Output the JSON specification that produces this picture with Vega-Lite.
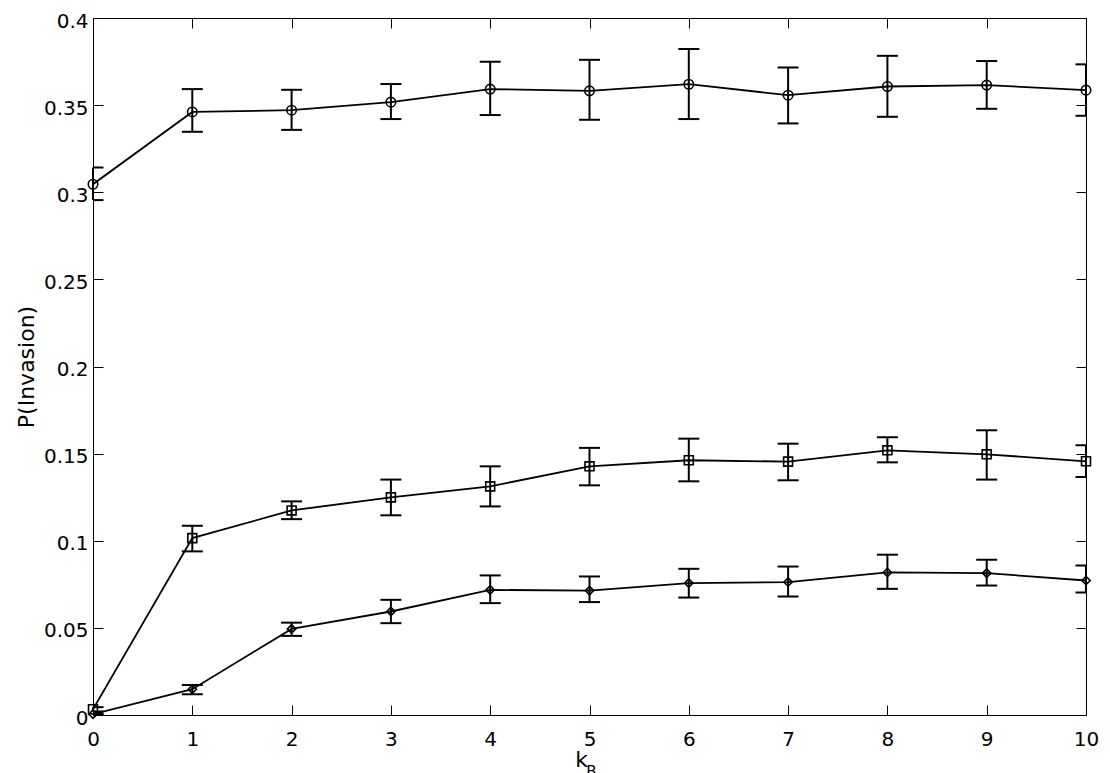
{
  "$schema": "https://vega.github.io/schema/vega-lite/v6.json",
  "width": 993,
  "height": 697,
  "autosize": "none",
  "padding": {"left": 93, "top": 18, "right": 24, "bottom": 58},
  "background": "white",
  "config": {
    "view": {"stroke": "black", "strokeWidth": 1},
    "font": "DejaVu Sans",
    "axis": {"grid": false, "domain": false, "labelFont": "DejaVu Sans", "titleFont": "DejaVu Sans", "labelFontSize": 20, "titleFontSize": 22, "labelColor": "black", "titleColor": "black", "titleFontWeight": "normal", "tickColor": "black", "tickWidth": 1}
  },
  "data": {
    "values": [
      {"series": "A", "x": 0, "y": 0.3046, "lo": 0.2955, "hi": 0.3142},
      {"series": "A", "x": 1, "y": 0.3461, "lo": 0.3347, "hi": 0.3592},
      {"series": "A", "x": 2, "y": 0.3471, "lo": 0.3358, "hi": 0.3588},
      {"series": "A", "x": 3, "y": 0.3517, "lo": 0.342, "hi": 0.3621},
      {"series": "A", "x": 4, "y": 0.3592, "lo": 0.3443, "hi": 0.3749},
      {"series": "A", "x": 5, "y": 0.3582, "lo": 0.3416, "hi": 0.376},
      {"series": "A", "x": 6, "y": 0.362, "lo": 0.342, "hi": 0.3822},
      {"series": "A", "x": 7, "y": 0.3557, "lo": 0.3395, "hi": 0.3716},
      {"series": "A", "x": 8, "y": 0.3607, "lo": 0.3433, "hi": 0.3783},
      {"series": "A", "x": 9, "y": 0.3615, "lo": 0.3479, "hi": 0.3753},
      {"series": "A", "x": 10, "y": 0.3586, "lo": 0.3439, "hi": 0.3734},
      {"series": "B", "x": 0, "y": 0.0033, "lo": 0.002, "hi": 0.0045},
      {"series": "B", "x": 1, "y": 0.1015, "lo": 0.0939, "hi": 0.1086},
      {"series": "B", "x": 2, "y": 0.1174, "lo": 0.1124, "hi": 0.1226},
      {"series": "B", "x": 3, "y": 0.1249, "lo": 0.1146, "hi": 0.1351},
      {"series": "B", "x": 4, "y": 0.1312, "lo": 0.1197, "hi": 0.1427},
      {"series": "B", "x": 5, "y": 0.1427, "lo": 0.1318, "hi": 0.1533},
      {"series": "B", "x": 6, "y": 0.1462, "lo": 0.1341, "hi": 0.1586},
      {"series": "B", "x": 7, "y": 0.1454, "lo": 0.1347, "hi": 0.1557},
      {"series": "B", "x": 8, "y": 0.1519, "lo": 0.145, "hi": 0.1594},
      {"series": "B", "x": 9, "y": 0.1496, "lo": 0.1351, "hi": 0.1634},
      {"series": "B", "x": 10, "y": 0.1456, "lo": 0.1366, "hi": 0.1548},
      {"series": "C", "x": 0, "y": 0.0005, "lo": 0.0002, "hi": 0.0008},
      {"series": "C", "x": 1, "y": 0.0148, "lo": 0.0119, "hi": 0.0172},
      {"series": "C", "x": 2, "y": 0.0494, "lo": 0.0454, "hi": 0.053},
      {"series": "C", "x": 3, "y": 0.0594, "lo": 0.0527, "hi": 0.0661},
      {"series": "C", "x": 4, "y": 0.0718, "lo": 0.0642, "hi": 0.0801},
      {"series": "C", "x": 5, "y": 0.0714, "lo": 0.0648, "hi": 0.0795},
      {"series": "C", "x": 6, "y": 0.0757, "lo": 0.0674, "hi": 0.0839},
      {"series": "C", "x": 7, "y": 0.0763, "lo": 0.068, "hi": 0.0852},
      {"series": "C", "x": 8, "y": 0.0818, "lo": 0.0724, "hi": 0.092},
      {"series": "C", "x": 9, "y": 0.0814, "lo": 0.0743, "hi": 0.0891},
      {"series": "C", "x": 10, "y": 0.0772, "lo": 0.0703, "hi": 0.0858}
    ]
  },
  "layer": [
    {
      "mark": {"type": "line", "color": "black", "strokeWidth": 1.8, "clip": true},
      "encoding": {
        "x": {"field": "x", "type": "quantitative", "scale": {"domain": [0, 10], "nice": false, "zero": false},
          "axis": {"orient": "bottom", "title": "k", "values": [0,1,2,3,4,5,6,7,8,9,10], "tickSize": -10, "labelPadding": 24, "titlePadding": 0, "titleX": 488, "titleAlign": "center", "labelFlush": false, "labelOverlap": false}},
        "y": {"field": "y", "type": "quantitative", "scale": {"domain": [0, 0.4], "nice": false},
          "axis": {"orient": "left", "title": "P(Invasion)", "values": [0,0.05,0.1,0.15,0.2,0.25,0.3,0.35,0.4], "format": "~g", "tickSize": -10, "labelPadding": 15, "titlePadding": 5, "labelOffset": 3, "labelFlush": false, "labelOverlap": false}},
        "detail": {"field": "series"}
      }
    },
    {
      "mark": {"type": "rule", "color": "black", "strokeWidth": 2},
      "encoding": {
        "x": {"field": "x", "type": "quantitative", "axis": null},
        "y": {"field": "lo", "type": "quantitative", "axis": null},
        "y2": {"field": "hi"}
      }
    },
    {
      "mark": {"type": "tick", "orient": "horizontal", "color": "black", "size": 21, "thickness": 2, "opacity": 1, "clip": true},
      "encoding": {
        "x": {"field": "x", "type": "quantitative", "axis": null},
        "y": {"field": "lo", "type": "quantitative", "axis": null}
      }
    },
    {
      "mark": {"type": "tick", "orient": "horizontal", "color": "black", "size": 21, "thickness": 2, "opacity": 1, "clip": true},
      "encoding": {
        "x": {"field": "x", "type": "quantitative", "axis": null},
        "y": {"field": "hi", "type": "quantitative", "axis": null}
      }
    },
    {
      "mark": {"type": "point", "filled": false, "color": "black", "strokeWidth": 1.6, "opacity": 1},
      "encoding": {
        "x": {"field": "x", "type": "quantitative",
          "axis": {"orient": "top", "title": null, "labels": false, "values": [0,1,2,3,4,5,6,7,8,9,10], "tickSize": -10}},
        "y": {"field": "y", "type": "quantitative",
          "axis": {"orient": "right", "title": null, "labels": false, "values": [0,0.05,0.1,0.15,0.2,0.25,0.3,0.35,0.4], "tickSize": -10}},
        "shape": {"field": "series", "type": "nominal", "scale": {"domain": ["A", "B", "C"], "range": ["circle", "square", "diamond"]}, "legend": null},
        "size": {"field": "series", "type": "nominal", "scale": {"domain": ["A", "B", "C"], "range": [90, 70, 80]}, "legend": null}
      }
    },
    {
      "data": {"values": [{"x": 5, "y": 0, "t": "B"}]},
      "mark": {"type": "text", "fontSize": 15, "font": "DejaVu Sans", "color": "black", "baseline": "top", "align": "center", "dx": 2, "dy": 50},
      "encoding": {
        "x": {"field": "x", "type": "quantitative", "axis": null},
        "y": {"field": "y", "type": "quantitative", "axis": null},
        "text": {"field": "t"}
      }
    }
  ],
  "resolve": {"axis": {"x": "independent", "y": "independent"}}
}
